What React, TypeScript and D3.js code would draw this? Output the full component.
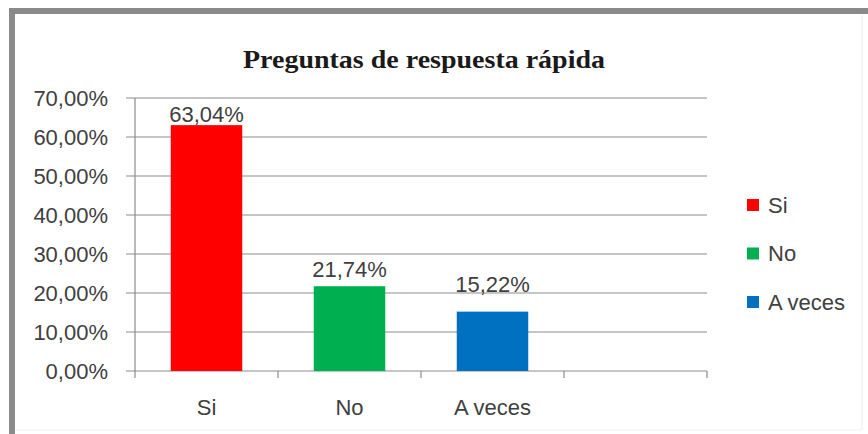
import React from "react";
import * as d3 from "d3";

const categories = ["Si", "No", "A veces", ""];
const values = [0.6304, 0.2174, 0.1522, null];
const valueLabels = ["63,04%", "21,74%", "15,22%", ""];
const colors = ["#FF0000", "#00B050", "#0070C0"];
const legendItems = ["Si", "No", "A veces"];
const yTicks = [0, 0.1, 0.2, 0.3, 0.4, 0.5, 0.6, 0.7];
const title = "Preguntas de respuesta rápida";

export default function App() {
  const W = 868, H = 434;
  const x0 = 135, x1 = 707, yTop = 98, yBot = 371;
  const labelGap = [3, 9, 20];
  const x = d3.scaleBand<string>().domain(categories).range([x0, x1]).paddingInner(0.5).paddingOuter(0.25);
  const xb = d3.scaleBand<string>().domain(categories).range([x0, x1]);
  const y = d3.scaleLinear().domain([0, 0.7]).range([yBot, yTop]);
  const fmt = (v: number) => (v * 100).toFixed(2).replace(".", ",") + "%";
  const font = "'Liberation Sans', Arial, sans-serif";
  const gridColor = "#8c8c8c";
  const fs = 22;
  return (
    <svg width={W} height={H} style={{ position: "absolute", left: 0, top: 0, background: "#fff" }}>
      <rect x={0} y={0} width={W} height={H} fill="#fff" />
      {/* frame */}
      <line x1={862} y1={15} x2={862} y2={430} stroke="#ececec" strokeWidth={1} />
      <line x1={15} y1={430} x2={862} y2={430} stroke="#f2f2f2" strokeWidth={1} />
      <rect x={9} y={8} width={W} height={6} fill="#8a8a8a" />
      <rect x={9} y={8} width={6} height={H} fill="#8a8a8a" />
      <text x={424} y={68} textAnchor="middle" fontFamily="'Liberation Serif', 'DejaVu Serif', serif" fontWeight="bold" fontSize={25} fill="#1a1a1a" textLength={362} lengthAdjust="spacingAndGlyphs">{title}</text>
      {/* gridlines */}
      {yTicks.map((t) => (
        <g key={t}>
          <line x1={126} x2={x1} y1={y(t)} y2={y(t)} stroke={gridColor} strokeWidth={1.2} />
          <text x={108} y={y(t)} dy="0.36em" textAnchor="end" fontFamily={font} fontSize={fs} fill="#404040">{fmt(t)}</text>
        </g>
      ))}
      <line x1={x0} x2={x0} y1={yTop} y2={yBot + 7} stroke={gridColor} strokeWidth={1.2} />
      {categories.map((c) => (
        <line key={"t" + c} x1={(xb(c) as number) + xb.bandwidth()} x2={(xb(c) as number) + xb.bandwidth()} y1={yBot} y2={yBot + 7} stroke={gridColor} strokeWidth={1.2} />
      ))}
      {categories.map((c, i) => {
        const v = values[i];
        if (v == null) return null;
        const cx = (x(c) as number) + x.bandwidth() / 2;
        return (
          <g key={c}>
            <rect x={x(c)} y={y(v)} width={x.bandwidth()} height={yBot - y(v)} fill={colors[i]} />
            <text x={cx} y={y(v) - labelGap[i]} textAnchor="middle" fontFamily={font} fontSize={fs} fill="#404040">{valueLabels[i]}</text>
            <text x={cx} y={407} dy="0.36em" textAnchor="middle" fontFamily={font} fontSize={fs} fill="#404040">{c}</text>
          </g>
        );
      })}
      {legendItems.map((l, i) => (
        <g key={l} transform={`translate(747, ${205 + i * 48.5})`}>
          <rect x={0} y={-6} width={12} height={12} fill={colors[i]} />
          <text x={21} y={0} dy="0.36em" fontFamily={font} fontSize={fs} fill="#404040">{l}</text>
        </g>
      ))}
    </svg>
  );
}
